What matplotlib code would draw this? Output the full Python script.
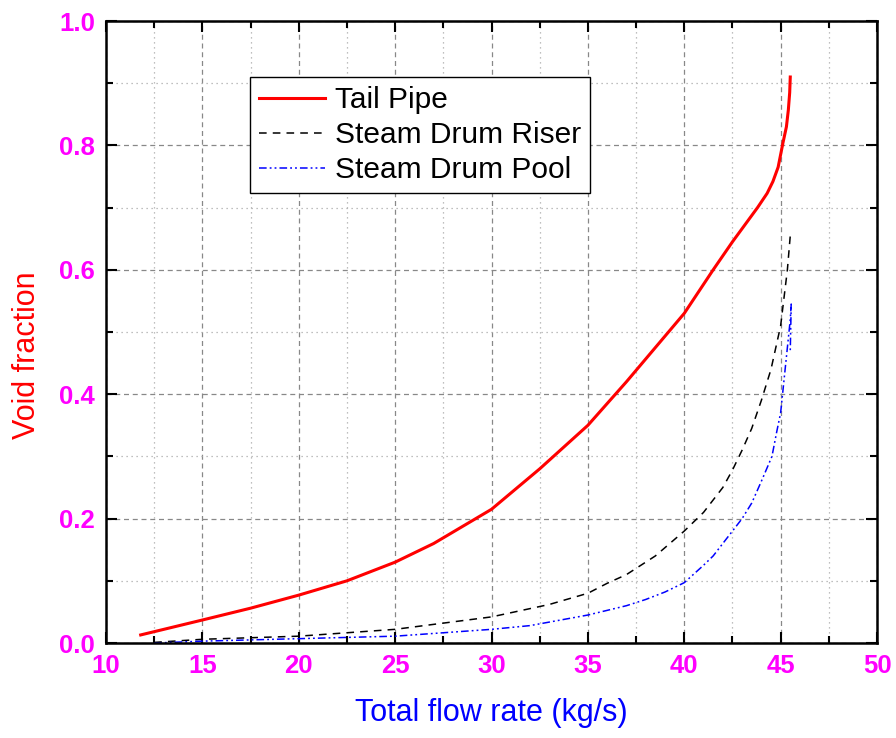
import matplotlib.pyplot as plt
from matplotlib.ticker import MultipleLocator, FormatStrFormatter

plt.rcParams['font.family'] = ['Liberation Sans', 'DejaVu Sans']

# Tail Pipe
tail_x = [11.8, 13, 15, 17.5, 20, 22.5, 25, 27, 30, 32.5, 35, 37, 40, 41.5,
          42.5, 43.8, 44.3, 44.6, 44.87, 45.12, 45.3, 45.4, 45.47, 45.5]
tail_y = [0.013, 0.022, 0.037, 0.056, 0.077, 0.100, 0.130, 0.160, 0.215, 0.280,
          0.350, 0.420, 0.530, 0.600, 0.645, 0.700, 0.723, 0.742, 0.765, 0.804,
          0.830, 0.857, 0.885, 0.910]

# Steam Drum Riser
riser_x = [12.5, 15, 20, 25, 30, 33, 35, 36, 37, 38.5, 40, 41, 42, 42.5, 43,
           43.5, 44, 44.5, 45, 45.35, 45.5]
riser_y = [0.001, 0.006, 0.011, 0.022, 0.042, 0.062, 0.080, 0.096, 0.110, 0.140,
           0.180, 0.210, 0.250, 0.278, 0.310, 0.345, 0.390, 0.440, 0.510, 0.600,
           0.655]

# Steam Drum Pool
pool_x = [12.5, 15, 20, 25, 30, 32, 35, 37, 38, 39, 40, 41, 41.5, 42, 42.5, 43,
          43.5, 44, 44.55, 44.8, 45, 45.1, 45.3, 45.5, 45.55, 45.5]
pool_y = [0.0, 0.003, 0.007, 0.011, 0.022, 0.028, 0.045, 0.060, 0.070, 0.082,
          0.097, 0.125, 0.140, 0.160, 0.180, 0.200, 0.225, 0.260, 0.300, 0.340,
          0.370, 0.400, 0.460, 0.520, 0.545, 0.470]

fig = plt.figure(figsize=(8.96, 7.38), dpi=100)
ax = fig.add_axes([0.1183, 0.1287, 0.8605, 0.8428])

ax.plot(tail_x, tail_y, color='red', linewidth=2.2, label='Tail Pipe')
ax.plot(riser_x, riser_y, color='black', linewidth=1.1, linestyle=(0, (5, 4)),
        label='Steam Drum Riser')
ax.plot(pool_x, pool_y, color='blue', linewidth=1.1,
        linestyle=(0, (5, 2, 1.2, 2, 1.2, 2)), label='Steam Drum Pool')

ax.set_xlim(10, 50)
ax.set_ylim(0, 1.0)
ax.xaxis.set_major_locator(MultipleLocator(5))
ax.xaxis.set_minor_locator(MultipleLocator(2.5))
ax.yaxis.set_major_locator(MultipleLocator(0.2))
ax.yaxis.set_minor_locator(MultipleLocator(0.1))
ax.yaxis.set_major_formatter(FormatStrFormatter('%.1f'))

ax.grid(True, which='major', color='#888888', linestyle=(0, (4, 3)), linewidth=0.9)
ax.grid(True, which='minor', color='#aaaaaa', linestyle=(0, (1, 3)), linewidth=0.9)
ax.set_axisbelow(True)

ax.tick_params(which='both', direction='in', top=True, right=True, width=1.5)
ax.tick_params(which='major', length=8, labelsize=18.5, labelcolor='magenta', pad=8)
ax.tick_params(which='minor', length=5)
for lab in ax.get_xticklabels() + ax.get_yticklabels():
    lab.set_fontweight('bold')
for s in ax.spines.values():
    s.set_linewidth(1.8)

ax.set_xlabel('Total flow rate (kg/s)', fontsize=22, color='blue', labelpad=14)
ax.set_ylabel('Void fraction', fontsize=22, color='red')
ax.yaxis.set_label_coords(-0.083, 0.463)

leg = ax.legend(loc='upper left', bbox_to_anchor=(0.187, 0.91), fontsize=21.5,
                frameon=True, fancybox=False, edgecolor='black', framealpha=1,
                handlelength=2.2, labelspacing=0.24, borderpad=0.3,
                handletextpad=0.35, borderaxespad=0)
leg.get_frame().set_linewidth(1.0)

fig.savefig('out.png', dpi=100)
